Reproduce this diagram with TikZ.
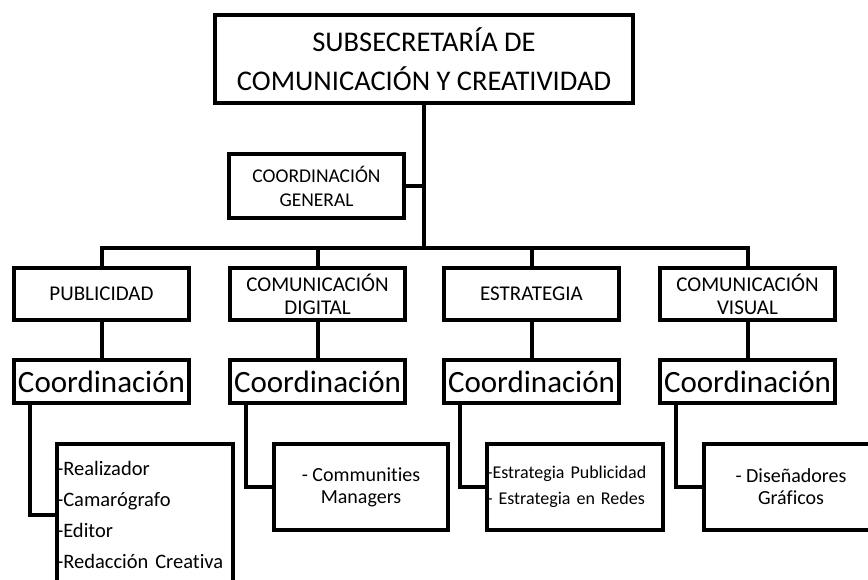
\documentclass[tikz,border=0pt]{standalone}
\usepackage{fontspec}
\setmainfont{Carlito}[Ligatures=CommonOff]
\tikzset{
    box/.style={draw, line width=4pt, minimum width=175pt, inner sep=0pt, align=center},
    link/.style={line width=4pt},
}
\begin{document}
\begin{tikzpicture}[x=1pt, y=-1pt]
    \clip (0, 0) rectangle (868, 580);
    \node[box, minimum width=418pt, minimum height=88pt, font=\fontsize{28.5}{39}\selectfont] (sub) at (424, 59) {SUBSECRETARÍA DE\\COMUNICACIÓN Y CREATIVIDAD};
    \node[box, minimum height=64pt, font=\fontsize{19.5}{24}\selectfont] (gen) at (316.5, 186) {COORDINACIÓN\\GENERAL};
    \coordinate (bar) at (424, 248);
    \draw[link] (sub.south) -- (bar);
    \draw[link] (gen.east) -- (gen.east -| bar);
    \foreach \n/\x/\t in {pub/101.5/PUBLICIDAD, dig/317.5/COMUNICACIÓN\\DIGITAL, est/531.5/ESTRATEGIA, vis/747.5/COMUNICACIÓN\\VISUAL} {
        \node[box, minimum height=52pt, font=\fontsize{21}{23}\selectfont] (\n) at (\x, 294) {\t};
        \node[box, minimum height=43pt, font=\fontsize{31}{31}\selectfont] (c\n) at (\x, 381.5) {Coordinación};
        \draw[link] (\n.south) -- (c\n.north);
    }
    \draw[link] (pub.north) |- (bar) -| (vis.north);
    \draw[link] (dig.north) -- (dig.north |- bar);
    \draw[link] (est.north) -- (est.north |- bar);
    % listas
    \node[box, minimum width=176pt, text width=176pt, minimum height=142pt, align=left, font=\fontsize{20.5}{31}\selectfont] (lpub) at (145, 515) {-Realizador\\-Camarógrafo\\-Editor\\-Redacción Creativa};
    \node[box, minimum width=174pt, minimum height=86pt, font=\fontsize{20}{22}\selectfont] (ldig) at (361, 487) {- Communities\\Managers};
    \node[box, minimum width=176pt, text width=176pt, minimum height=86pt, align=left, font=\fontsize{18}{26}\selectfont] (lest) at (575, 487) {-Estrategia Publicidad\\- Estrategia en Redes};
    \node[box, minimum width=174pt, minimum height=86pt, font=\fontsize{20}{22}\selectfont] (lvis) at (791, 487) {- Diseñadores\\Gráficos};
    \foreach \n in {pub, dig, est, vis} {
        \draw[link] ([xshift=18pt]c\n.south west) |- (l\n.west);
    }
\end{tikzpicture}
\end{document}
